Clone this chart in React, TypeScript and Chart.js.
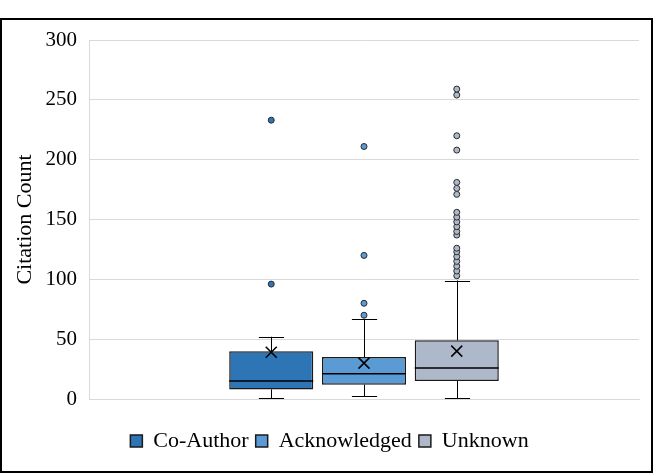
import React, { useEffect, useRef } from 'react';
import { Chart, registerables } from 'chart.js';

Chart.register(...registerables);

const categories = ['Co-Author', 'Acknowledged', 'Unknown'];
const whiskerMin = [0, 2, 0];
const q1Values = [8, 12, 15];
const medianValues = [15, 21, 26];
const q3Values = [40, 35, 49];
const whiskerMax = [52, 67, 99];
const meanValues = [39, 30, 40];
const coAuthorOutliers = [96, 233];
const acknowledgedOutliers = [70, 80, 120, 211];
const unknownOutliers = [103, 107, 111, 115, 119, 123, 126, 137, 140, 144, 148, 152, 156, 171, 176, 181, 208, 220, 254, 259];
const outlierLists = [coAuthorOutliers, acknowledgedOutliers, unknownOutliers];
const fillColors = ['#2E75B6', '#5B9BD5', '#ADB9CA'];
const yMin = 0;
const yMax = 300;
const yStep = 50;

const FONT = "'Liberation Serif', 'Times New Roman', serif";

const boxPlugin = {
  id: 'boxExtras',
  afterLayout(chart: any) {
    const lg = chart.legend;
    if (lg) {
      lg.left += 9;
      lg.right += 9;
    }
  },
  afterDatasetsDraw(chart: any) {
    const ctx = chart.ctx;
    const ys = chart.scales.y;
    const py = (v: number) => ys.getPixelForValue(v);
    chart.data.datasets.forEach((_ds: any, i: number) => {
      const meta = chart.getDatasetMeta(i);
      if (!meta.visible || !meta.data[0]) return;
      const bar = meta.data[0];
      const x = Math.round(bar.x) + 0.5;
      const w = bar.width;
      const cap = w * 0.15;
      ctx.save();
      ctx.strokeStyle = '#000';
      ctx.lineWidth = 1;
      ctx.beginPath();
      ctx.moveTo(x, py(q3Values[i]));
      ctx.lineTo(x, py(whiskerMax[i]));
      ctx.moveTo(x - cap, Math.round(py(whiskerMax[i])) + 0.5);
      ctx.lineTo(x + cap, Math.round(py(whiskerMax[i])) + 0.5);
      ctx.moveTo(x, py(q1Values[i]));
      ctx.lineTo(x, py(whiskerMin[i]));
      ctx.moveTo(x - cap, Math.round(py(whiskerMin[i])) - 0.5);
      ctx.lineTo(x + cap, Math.round(py(whiskerMin[i])) - 0.5);
      ctx.stroke();
      ctx.lineWidth = 1.5;
      ctx.beginPath();
      ctx.moveTo(bar.x - w / 2, py(medianValues[i]));
      ctx.lineTo(bar.x + w / 2, py(medianValues[i]));
      ctx.stroke();
      const my = py(meanValues[i]);
      const m = 5.5;
      ctx.lineWidth = 1.5;
      ctx.beginPath();
      ctx.moveTo(bar.x - m, my - m);
      ctx.lineTo(bar.x + m, my + m);
      ctx.moveTo(bar.x + m, my - m);
      ctx.lineTo(bar.x - m, my + m);
      ctx.stroke();
      ctx.lineWidth = 1;
      ctx.strokeStyle = '#2a2a2a';
      ctx.fillStyle = fillColors[i];
      outlierLists[i].forEach((v) => {
        ctx.beginPath();
        ctx.arc(bar.x, py(v), 3, 0, Math.PI * 2);
        ctx.fill();
        ctx.stroke();
      });
      ctx.restore();
    });
  },
};

export default function App() {
  const ref = useRef<HTMLCanvasElement>(null);
  useEffect(() => {
    if (!ref.current) return;
    const chart = new Chart(ref.current, {
      type: 'bar',
      data: {
        labels: [''],
        datasets: categories.map((name, i) => ({
          label: name,
          data: [[q1Values[i], q3Values[i]]] as any,
          backgroundColor: fillColors[i],
          borderColor: '#1a1a1a',
          borderWidth: 1.5,
          borderSkipped: false,
          categoryPercentage: 0.506,
          barPercentage: 0.906,
        })),
      },
      options: {
        animation: false,
        responsive: false,
        maintainAspectRatio: false,
        layout: { padding: { left: 2, right: 24, top: 40, bottom: 12 } },
        plugins: {
          tooltip: { enabled: false },
          legend: {
            position: 'bottom',
            labels: {
              boxWidth: 12,
              boxHeight: 12,
              padding: 7,
              color: '#000',
              font: { family: FONT, size: 22 },
            },
          },
        },
        scales: {
          x: {
            grid: { display: false },
            border: { display: true, color: '#d9d9d9' },
            ticks: { display: false },
            afterFit: (s: any) => { s.height = 24; },
          },
          y: {
            min: yMin,
            max: yMax,
            ticks: {
              stepSize: yStep,
              padding: 12,
              color: '#000',
              font: { family: FONT, size: 21 },
            },
            grid: { color: '#d9d9d9', drawTicks: false },
            border: { display: true, color: '#d9d9d9' },
            title: {
              display: true,
              text: 'Citation Count',
              color: '#000',
              font: { family: FONT, size: 22 },
              padding: { top: 10, bottom: 0 },
            },
            afterFit: (s: any) => { s.width = 87; },
          },
        },
      },
      plugins: [boxPlugin],
    });
    return () => chart.destroy();
  }, []);
  return (
    <div style={{ position: 'fixed', left: 0, top: 0, width: 663, height: 474, background: '#fff' }}>
      <canvas ref={ref} width={663} height={474} style={{ position: 'absolute', left: 0, top: 0 }} />
      <div
        style={{
          position: 'absolute',
          left: 0,
          top: 18,
          width: 653,
          height: 455,
          border: '2px solid #000',
          boxSizing: 'border-box',
          pointerEvents: 'none',
        }}
      />
    </div>
  );
}
